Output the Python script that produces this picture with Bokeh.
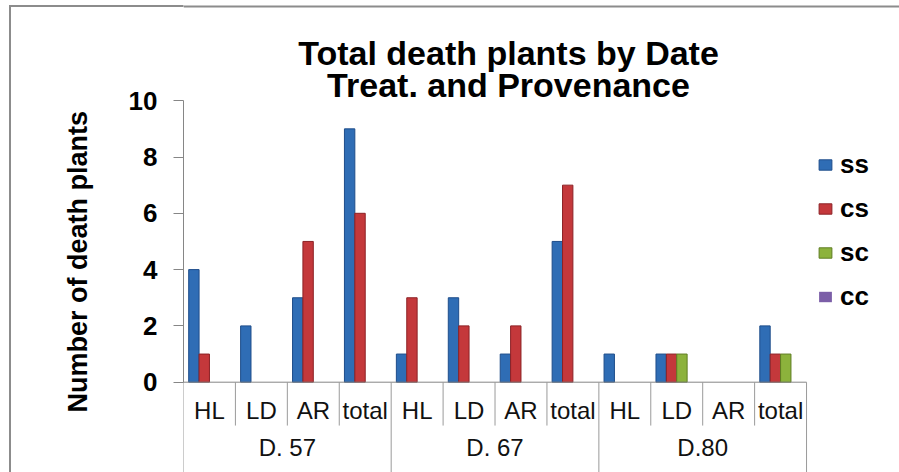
from bokeh.plotting import figure
from bokeh.models import (Range1d, FixedTicker, Legend, LegendItem,
                          Title, CDSView, BooleanFilter)
from bokeh.core.properties import value
from bokeh.embed import file_html
from bokeh.resources import INLINE

# ---------------- data ----------------
dates = ["D. 57", "D. 67", "D.80"]
treatments = ["HL", "LD", "AR", "total"]
series_names = ["ss", "cs", "sc", "cc"]
ss = [4, 2, 3, 9, 1, 3, 1, 5, 1, 1, 0, 2]
cs = [1, 0, 5, 6, 3, 2, 2, 7, 0, 1, 0, 1]
sc = [0, 0, 0, 0, 0, 0, 0, 0, 0, 1, 0, 1]
cc = [0, 0, 0, 0, 0, 0, 0, 0, 0, 0, 0, 0]
y_ticks = [0, 2, 4, 6, 8, 10]
title_lines = ["Total death plants by Date", "Treat. and Provenance"]
y_title = "Number of death plants"

# ---------------- styling ----------------
FONT = "Liberation Sans"
fills = ["#2F6DB5", "#C4383B", "#8CB23C", "#7B5EA7"]
edges = ["#1E4D8A", "#8C2226", "#5F7D22", "#543F7A"]
GRID = "#9A9A9A"
BORDER = "#8C8C8C"

factors = [(d, t) for d in dates for t in treatments]
n = len(factors)
nt = len(treatments)
xc = [i + 0.5 for i in range(n)]                       # category centres
gc = [g * nt + nt / 2 for g in range(len(dates))]       # group centres

W, H = 899, 472
left_px = 183
cat_px = 51.92            # pixels per category
ppu = 28.15               # pixels per y unit
zero_px = 381.7           # canvas y of value 0
y_top = zero_px / ppu
y_bot = -(H - zero_px) / ppu
x_end = (W - left_px) / cat_px

p = figure(width=W, height=H, output_backend="svg", toolbar_location=None,
           x_range=Range1d(0, x_end),
           y_range=Range1d(y_bot, y_top), x_axis_location=None,
           min_border_left=left_px, min_border_right=0,
           min_border_top=0, min_border_bottom=0, tools="")
p.outline_line_color = None
p.xgrid.visible = False
p.ygrid.visible = False
p.background_fill_color = "white"
p.background_fill_alpha = 1
p.border_fill_alpha = 0
p.styles = {"background": (
    "linear-gradient(#8C8C8C,#8C8C8C) 9px 5px / 2px 100% no-repeat, "
    "linear-gradient(#8C8C8C,#8C8C8C) 9px 5px / 100% 2px no-repeat, white")}

# outer chart border continued across the plotting area (top edge)
border_y = y_top - 6 / ppu
p.segment(x0=[0], x1=[x_end], y0=[border_y], y1=[border_y],
          line_color=BORDER, line_width=2)

# y axis
ax = p.yaxis[0]
ax.ticker = FixedTicker(ticks=y_ticks)
ax.bounds = (0, 10)
ax.axis_line_color = "#868686"
ax.major_tick_line_color = "#868686"
ax.major_tick_out = 10
ax.major_tick_in = 0
ax.minor_tick_line_color = None
ax.major_label_text_font = FONT
ax.major_label_text_font_style = "bold"
ax.major_label_text_font_size = "26px"
ax.major_label_text_color = "black"
ax.major_label_standoff = 16

yt = Title(text=y_title, align="left", offset=60, standoff=66,
           text_font=FONT, text_font_style="bold", text_font_size="27px",
           text_color="black")
p.add_layout(yt, "left")

# bars
offsets = [-0.3, -0.1, 0.1, 0.3]
vals = {"ss": ss, "cs": cs, "sc": sc, "cc": cc}
renderers = []
for name, off, fc, ec in zip(series_names, offsets, fills, edges):
    v = vals[name]
    has_bars = any(val > 0 for val in v)
    r = p.vbar(x=[x + off for x in xc], top=v, width=0.2,
               fill_color=fc, line_color=ec if has_bars else None, line_width=1)
    if has_bars:
        r.view = CDSView(filter=BooleanFilter([val > 0 for val in v]))
    renderers.append(r)

# category table below axis
p.segment(x0=[0], x1=[n], y0=[0], y1=[0],
          line_color="#868686", line_width=1)
inner_bot = -1.54
bounds_x = list(range(n + 1))
p.segment(x0=bounds_x, x1=bounds_x, y0=[0] * (n + 1),
          y1=[y_bot - 1 if i % nt == 0 else inner_bot for i in bounds_x],
          line_color=GRID, line_width=1)

p.text(x=xc, y=[-1.0] * n, text=[t for d, t in factors],
       text_font=value(FONT), text_font_size="24px", text_color="#111111",
       text_align="center", text_baseline="middle")
p.text(x=gc, y=[-2.32] * len(dates), text=dates,
       text_font=value(FONT), text_font_size="24px", text_color="#111111",
       text_align="center", text_baseline="middle")

# chart title
p.text(x=[6.26, 6.26], y=[11.71, 10.57], text=title_lines,
       text_font=value(FONT), text_font_style="bold", text_font_size="34px",
       text_color="black", text_align="center", text_baseline="alphabetic")

# legend
legend = Legend(items=[LegendItem(label=nm, renderers=[r]) for nm, r in zip(series_names, renderers)],
                location=(634, 160), glyph_width=16, glyph_height=13,
                label_text_font=FONT, label_text_font_style="bold",
                label_text_font_size="26px", label_text_color="black",
                label_standoff=7, label_height=32,
                spacing=12, padding=0, margin=0, border_line_color=None,
                background_fill_alpha=0)
p.add_layout(legend)

open("out.html", "w").write(file_html(p, INLINE))
